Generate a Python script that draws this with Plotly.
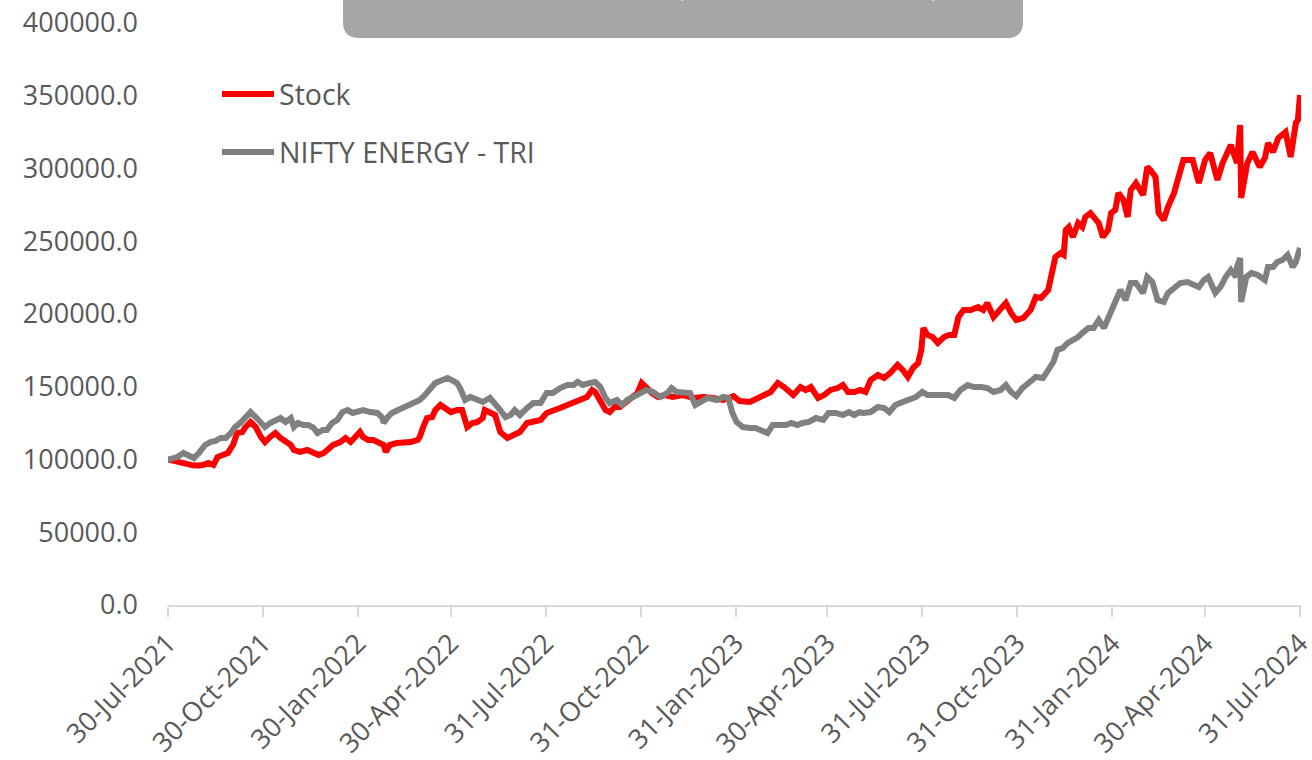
import plotly.graph_objects as go

# ---------------- data ----------------
stock_dates = [
    "2021-07-30","2021-08-05","2021-08-11","2021-08-17","2021-08-23","2021-08-28","2021-09-02","2021-09-07",
    "2021-09-12","2021-09-16","2021-09-22","2021-09-26","2021-10-01","2021-10-05","2021-10-10","2021-10-13",
    "2021-10-18","2021-10-23","2021-10-28","2021-11-01","2021-11-06","2021-11-11","2021-11-16","2021-11-21",
    "2021-11-26","2021-11-29","2021-12-05","2021-12-12","2021-12-18","2021-12-23","2021-12-28","2022-01-01",
    "2022-01-06","2022-01-13","2022-01-18","2022-01-23","2022-01-30","2022-02-01","2022-02-04","2022-02-09",
    "2022-02-14","2022-02-19","2022-02-24","2022-02-26","2022-03-02","2022-03-09","2022-03-15","2022-03-22",
    "2022-03-29","2022-03-31","2022-04-03","2022-04-07","2022-04-12","2022-04-15","2022-04-20","2022-04-25",
    "2022-04-30","2022-05-06","2022-05-11","2022-05-16","2022-05-21","2022-05-26","2022-05-31","2022-06-02",
    "2022-06-07","2022-06-12","2022-06-17","2022-06-24","2022-06-30","2022-07-06","2022-07-13","2022-07-19",
    "2022-07-26","2022-08-01","2022-08-07","2022-08-14","2022-08-21","2022-08-27","2022-09-02","2022-09-09",
    "2022-09-14","2022-09-17","2022-09-22","2022-09-27","2022-10-01","2022-10-06","2022-10-11","2022-10-16",
    "2022-10-23","2022-10-28","2022-11-01","2022-11-06","2022-11-11","2022-11-17","2022-11-24","2022-12-01",
    "2022-12-11","2022-12-21","2022-12-31","2023-01-09","2023-01-19","2023-01-29","2023-02-04","2023-02-14",
    "2023-02-21","2023-02-26","2023-03-06","2023-03-13","2023-03-19","2023-03-28","2023-04-04","2023-04-09",
    "2023-04-14","2023-04-21","2023-04-27","2023-05-03","2023-05-10","2023-05-15","2023-05-20","2023-05-26",
    "2023-06-01","2023-06-06","2023-06-11","2023-06-18","2023-06-24","2023-06-30","2023-07-07","2023-07-12",
    "2023-07-17","2023-07-22","2023-07-27","2023-07-30","2023-08-01","2023-08-05","2023-08-10","2023-08-15",
    "2023-08-21","2023-08-26","2023-08-31","2023-09-04","2023-09-09","2023-09-16","2023-09-23","2023-09-28",
    "2023-10-02","2023-10-08","2023-10-15","2023-10-20","2023-10-25","2023-10-30","2023-11-06","2023-11-13",
    "2023-11-18","2023-11-23","2023-11-30","2023-12-04","2023-12-07","2023-12-12","2023-12-15","2023-12-17",
    "2023-12-20","2023-12-24","2023-12-29","2024-01-02","2024-01-05","2024-01-10","2024-01-15","2024-01-18",
    "2024-01-22","2024-01-27","2024-01-30","2024-02-03","2024-02-06","2024-02-11","2024-02-15","2024-02-18",
    "2024-02-23","2024-02-28","2024-03-01","2024-03-05","2024-03-08","2024-03-13","2024-03-16","2024-03-21",
    "2024-03-25","2024-03-31","2024-04-04","2024-04-09","2024-04-18","2024-04-24","2024-04-30","2024-05-05",
    "2024-05-12","2024-05-17","2024-05-25","2024-05-31","2024-06-03","2024-06-04","2024-06-10","2024-06-15",
    "2024-06-22","2024-06-27","2024-06-30","2024-07-05","2024-07-10","2024-07-17","2024-07-22","2024-07-27",
    "2024-07-29","2024-07-31",
]
stock_values = [
    100000, 99000, 97600, 96200, 96000, 95900, 96200, 97600,
    96200, 101700, 103100, 104500, 110000, 118200, 118900, 122300,
    125800, 122300, 115500, 112000, 115500, 118200, 114800, 112000,
    110000, 106500, 105200, 106500, 105200, 103100, 104500, 106500,
    110000, 112000, 114800, 112000, 116800, 118900, 115500, 113400,
    113400, 111300, 110000, 105200, 110000, 111300, 111300, 112000,
    113400, 115500, 121700, 128500, 129200, 134000, 137500, 135400,
    132600, 134000, 134000, 122300, 125100, 125800, 128500, 134000,
    132600, 130600, 118900, 114800, 116800, 118900, 125100, 125800,
    127200, 132000, 134000, 135400, 137500, 138800, 140900, 143000,
    147800, 146400, 140900, 134000, 132600, 136100, 136100, 138800,
    142300, 145700, 152600, 149100, 145700, 143000, 144300, 143000,
    144300, 142300, 143000, 142300, 140900, 143600, 140200, 139500,
    142300, 144300, 146400, 152600, 149800, 144300, 149800, 147800,
    149800, 142300, 144300, 147800, 149100, 151200, 146400, 146400,
    147800, 146400, 154600, 158100, 156000, 159500, 165000, 161500,
    156700, 162900, 166300, 175300, 190400, 185600, 184200, 180100,
    184200, 185600, 185600, 197900, 202800, 202800, 204800, 202800,
    207600, 197900, 202800, 207600, 200700, 195900, 197300, 202800,
    211700, 211000, 216500, 228200, 239200, 241900, 240600, 257700,
    259800, 252900, 262500, 259800, 266700, 269400, 264600, 262500,
    252900, 257700, 269400, 271500, 283200, 278400, 266700, 285200,
    290000, 285200, 281800, 301000, 299000, 294200, 269400, 264600,
    273500, 283200, 292100, 305800, 305800, 290000, 305800, 310700,
    292100, 303800, 316200, 303800, 329900, 279700, 303800, 311300,
    301000, 307200, 317500, 311300, 321000, 325100, 307900, 331300,
    333300, 350500,
]

nifty_dates = [
    "2021-07-30","2021-08-08","2021-08-14","2021-08-19","2021-08-24","2021-08-29","2021-09-04","2021-09-09",
    "2021-09-14","2021-09-19","2021-09-24","2021-09-29","2021-10-03","2021-10-08","2021-10-13","2021-10-18",
    "2021-10-23","2021-10-28","2021-11-01","2021-11-06","2021-11-11","2021-11-16","2021-11-21","2021-11-26",
    "2021-11-29","2021-12-03","2021-12-08","2021-12-13","2021-12-18","2021-12-22","2021-12-27","2021-12-31",
    "2022-01-05","2022-01-10","2022-01-15","2022-01-20","2022-01-25","2022-01-31","2022-02-04","2022-02-11",
    "2022-02-18","2022-02-23","2022-02-24","2022-02-28","2022-03-04","2022-03-10","2022-03-15","2022-03-22",
    "2022-03-27","2022-03-31","2022-04-05","2022-04-10","2022-04-15","2022-04-22","2022-04-27","2022-05-01",
    "2022-05-06","2022-05-09","2022-05-14","2022-05-19","2022-05-26","2022-05-31","2022-06-07","2022-06-12",
    "2022-06-17","2022-06-22","2022-06-27","2022-07-01","2022-07-06","2022-07-13","2022-07-19","2022-07-26",
    "2022-08-01","2022-08-07","2022-08-14","2022-08-21","2022-08-27","2022-08-31","2022-09-05","2022-09-12",
    "2022-09-17","2022-09-22","2022-09-27","2022-10-01","2022-10-08","2022-10-13","2022-10-18","2022-10-24",
    "2022-10-31","2022-11-06","2022-11-12","2022-11-19","2022-11-26","2022-11-30","2022-12-05","2022-12-11",
    "2022-12-18","2022-12-23","2022-12-30","2023-01-04","2023-01-13","2023-01-19","2023-01-24","2023-01-28",
    "2023-02-01","2023-02-07","2023-02-14","2023-02-19","2023-02-24","2023-03-03","2023-03-08","2023-03-14",
    "2023-03-21","2023-03-26","2023-04-01","2023-04-06","2023-04-12","2023-04-19","2023-04-26","2023-05-01",
    "2023-05-08","2023-05-15","2023-05-21","2023-05-26","2023-05-31","2023-06-04","2023-06-11","2023-06-18",
    "2023-06-24","2023-06-29","2023-07-05","2023-07-12","2023-07-18","2023-07-25","2023-07-31","2023-08-05",
    "2023-08-11","2023-08-18","2023-08-25","2023-08-31","2023-09-06","2023-09-13","2023-09-19","2023-09-26",
    "2023-10-02","2023-10-08","2023-10-15","2023-10-20","2023-10-25","2023-10-30","2023-11-05","2023-11-11",
    "2023-11-18","2023-11-25","2023-11-30","2023-12-05","2023-12-09","2023-12-14","2023-12-19","2023-12-24",
    "2023-12-29","2024-01-02","2024-01-08","2024-01-13","2024-01-18","2024-01-23","2024-01-27","2024-01-30",
    "2024-02-03","2024-02-08","2024-02-13","2024-02-18","2024-02-23","2024-02-26","2024-03-01","2024-03-05",
    "2024-03-10","2024-03-15","2024-03-21","2024-03-25","2024-03-31","2024-04-06","2024-04-13","2024-04-19",
    "2024-04-24","2024-04-29","2024-05-03","2024-05-10","2024-05-15","2024-05-20","2024-05-25","2024-05-30",
    "2024-05-31","2024-06-03","2024-06-04","2024-06-09","2024-06-14","2024-06-20","2024-06-27","2024-06-30",
    "2024-07-05","2024-07-09","2024-07-14","2024-07-19","2024-07-24","2024-07-27","2024-07-29","2024-07-31",
]
nifty_values = [
    100000, 101700, 104500, 103100, 101000, 104500, 110000, 112000,
    112700, 114800, 114800, 118200, 122300, 125100, 129200, 132600,
    129200, 125100, 122300, 125100, 127200, 128500, 125800, 128500,
    122300, 125100, 123700, 123700, 121700, 118200, 120300, 120300,
    125100, 127200, 132600, 134000, 132000, 132600, 134000, 132600,
    132000, 128500, 125100, 129200, 132000, 134000, 135400, 137500,
    139500, 140900, 144300, 149100, 152600, 154600, 156000, 154600,
    152600, 149100, 140900, 143000, 140900, 139500, 142300, 138800,
    134000, 129200, 130600, 134000, 130600, 135400, 138800, 138800,
    145700, 145700, 149100, 151200, 151200, 153300, 151200, 152600,
    153300, 149800, 142300, 138800, 140900, 137500, 140900, 143000,
    145700, 147800, 146400, 143000, 145700, 149100, 146400, 145700,
    145700, 137500, 140900, 142300, 140900, 143000, 142300, 132000,
    125800, 122300, 121700, 121700, 120300, 118200, 123700, 123700,
    123700, 125100, 123700, 125100, 125800, 128500, 127200, 132000,
    132000, 130600, 132600, 130600, 132600, 132000, 132600, 136100,
    135400, 132600, 137500, 139500, 140900, 143000, 146400, 144300,
    144300, 144300, 144300, 142300, 147800, 151200, 149800, 149800,
    149100, 146400, 147800, 151200, 146400, 143600, 149100, 152600,
    156700, 156000, 161500, 167000, 175300, 176600, 180100, 182100,
    184200, 186900, 190400, 190400, 195900, 190400, 197300, 202800,
    209600, 216500, 209600, 221300, 221300, 218600, 214400, 225400,
    222000, 209600, 208300, 214400, 217900, 221300, 222000, 219900,
    218600, 223400, 225400, 214400, 218600, 225400, 230200, 225400,
    232300, 238500, 208300, 225400, 228200, 226800, 223400, 232300,
    232300, 235700, 237100, 240600, 232300, 235700, 241900, 245400,
]

series_names = ["Stock", "NIFTY ENERGY - TRI"]
series_colors = ["#FF0000", "#808080"]

tick_dates = ["2021-07-30","2021-10-30","2022-01-30","2022-04-30","2022-07-31","2022-10-31",
              "2023-01-31","2023-04-30","2023-07-31","2023-10-31","2024-01-31","2024-04-30","2024-07-31"]
tick_labels = ["30-Jul-2021","30-Oct-2021","30-Jan-2022","30-Apr-2022","31-Jul-2022","31-Oct-2022",
               "31-Jan-2023","30-Apr-2023","31-Jul-2023","31-Oct-2023","31-Jan-2024","30-Apr-2024","31-Jul-2024"]

y_ticks = [0, 50000, 100000, 150000, 200000, 250000, 300000, 350000, 400000]
title_text = "PERFORMANCE (GROWTH OF 1 LAKH)"

# ---------------- figure ----------------
W, H = 1312, 760
ML, MR, MT, MB = 168, 11, 23, 155
PW, PH = W - ML - MR, H - MT - MB

def px_x(p):
    return (p - ML) / PW

def px_y(p):
    return (H - MB - p) / PH

FONT = "Open Sans"
TXT = "#595959"

fig = go.Figure()
for name, xs, ys, col in [(series_names[0], stock_dates, stock_values, series_colors[0]),
                          (series_names[1], nifty_dates, nifty_values, series_colors[1])]:
    fig.add_trace(go.Scatter(x=xs, y=ys, mode="lines", name=name, legendgroup=name,
                             line=dict(color=col, width=6)))

# title box (cut off at the top)
x0, x1 = px_x(343), px_x(1023)
yb, yt = px_y(38), px_y(-40)
rx, ry = 16 / PW, 16 / PH
path = (f"M {x0},{yt} L {x0},{yb+ry} Q {x0},{yb} {x0+rx},{yb} "
        f"L {x1-rx},{yb} Q {x1},{yb} {x1},{yb+ry} L {x1},{yt} Z")
fig.add_shape(type="path", path=path, xref="paper", yref="paper",
              fillcolor="#A6A6A6", line=dict(width=0), layer="above")
fig.add_annotation(text=title_text, xref="paper", yref="paper",
                   x=px_x(941), y=px_y(6), xanchor="right", yanchor="bottom",
                   showarrow=False, font=dict(family=FONT, size=26, color="#FFFFFF"))

fig.update_layout(
    width=W, height=H,
    margin=dict(l=ML, r=MR, t=MT, b=MB, pad=0, autoexpand=False),
    paper_bgcolor="white", plot_bgcolor="white",
    font=dict(family=FONT, color=TXT),
    showlegend=True,
    legend=dict(x=px_x(217), y=px_y(69), xanchor="left", yanchor="top",
                font=dict(family=FONT, size=28.5, color=TXT),
                bgcolor="rgba(0,0,0,0)", tracegroupgap=18, itemwidth=52),
    xaxis=dict(type="date", range=["2021-07-30", "2024-08-01"], automargin=False,
               tickvals=tick_dates, ticktext=tick_labels, tickangle=-45,
               ticklabeloverflow="allow",
               tickfont=dict(family=FONT, size=27, color=TXT),
               showgrid=False, zeroline=False,
               showline=True, linecolor="#D9D9D9", linewidth=1.5,
               ticks="outside", ticklen=10, tickcolor="#D9D9D9", tickwidth=1.5),
    yaxis=dict(range=[0, 400000], tickvals=y_ticks, tickformat=".1f", automargin=False,
               tickfont=dict(family=FONT, size=27, color=TXT),
               showgrid=False, zeroline=False, showline=False, ticks="",
               ticklabelstandoff=29),
)

fig.write_html("out.html", include_plotlyjs=True,
               config={"displayModeBar": False},
               post_script="document.body.style.margin='0';")
